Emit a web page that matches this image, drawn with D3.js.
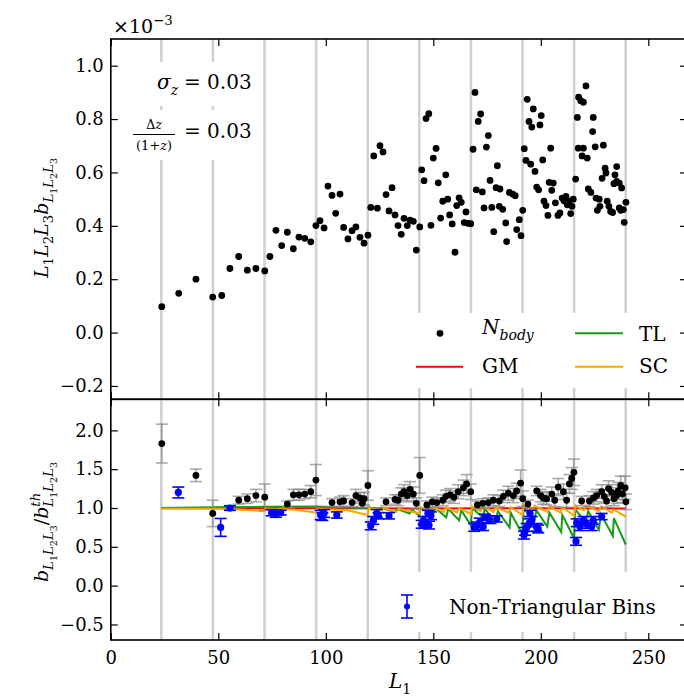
<!DOCTYPE html>
<html>
<head>
<meta charset="utf-8">
<script src="https://cdn.jsdelivr.net/npm/d3@7/dist/d3.min.js"></script>
<style>
body{margin:0;background:#fff;}
text{font-family:"DejaVu Serif",serif;fill:#000;}
</style>
</head>
<body>
<script>
/*
bispectrum of N-body vs models
top: L1 L2 L3 b (x1e-3), bottom: ratio to theory
*/

var svgwidth=684,svgheight=698;

// bin boundaries in L1 (grey verticals)
var binEdges=[23.5,47.5,71.5,95.5,119.5,143.5,167.5,191.5,215.5,239.5];
var xTicks=[0,50,100,150,200,250];
var topTicks=[-0.2,0.0,0.2,0.4,0.6,0.8,1.0];
var botTicks=[-0.5,0.0,0.5,1.0,1.5,2.0];

// N-body points, top panel (units of 1e-3)
var nbodyL1=[23.7,31.6,39.6,47.4,51.6,55.4,59.5,63.5,67.5,71.6,74.0,76.8,79.5,82.1,84.9,87.5,90.2,93.0,95.4,97.3,
  99.2,101.0,102.9,106.6,104.6,108.3,110.3,112.2,114.0,115.9,117.8,119.6,120.9,124.0,122.3,125.2,126.6,128.0,130.8,129.4,
  132.2,133.6,135.1,136.4,137.9,139.2,140.7,142.1,143.7,144.6,145.7,146.6,147.9,148.9,150.0,151.3,152.3,153.4,154.4,155.8,
  156.7,157.6,158.8,160.1,160.9,162.0,163.0,165.2,164.4,166.3,167.4,168.5,169.4,170.9,172.0,170.0,172.8,174.7,175.6,173.6,
  176.4,177.2,178.1,179.2,179.8,180.7,181.0,182.3,183.7,184.1,185.4,186.9,188.1,188.8,190.0,190.8,191.6,192.3,193.7,194.5,
  195.8,196.5,193.1,195.3,197.3,199.6,200.2,200.9,204.6,198.1,199.0,203.9,205.8,205.1,201.5,202.4,203.3,206.8,208.0,208.9,
  209.9,210.8,211.7,212.3,213.1,213.9,214.5,215.1,216.2,217.0,217.6,218.6,219.8,221.0,217.4,219.8,219.2,221.6,224.4,224.1,
  225.3,229.1,222.1,223.3,225.7,227.2,227.5,226.3,228.5,229.9,230.3,230.9,231.7,232.5,233.4,234.5,235.3,234.0,235.3,236.5,
  237.6,236.5,237.2,238.4,239.6,238.8];
var nbodyB=[0.097,0.147,0.200,0.133,0.139,0.240,0.285,0.234,0.240,0.231,0.285,0.383,0.326,0.376,0.314,0.358,0.353,0.340,0.401,0.419,
  0.392,0.549,0.514,0.519,0.447,0.394,0.351,0.382,0.396,0.357,0.335,0.365,0.469,0.466,0.662,0.700,0.677,0.517,0.543,0.456,
  0.441,0.401,0.368,0.428,0.401,0.421,0.417,0.309,0.396,0.610,0.569,0.802,0.820,0.402,0.654,0.690,0.561,0.429,0.492,0.591,
  0.500,0.441,0.407,0.301,0.476,0.505,0.488,0.452,0.412,0.409,0.408,0.687,0.900,0.791,0.819,0.535,0.527,0.695,0.738,0.467,
  0.570,0.469,0.378,0.543,0.625,0.473,0.538,0.462,0.411,0.341,0.525,0.519,0.513,0.386,0.423,0.363,0.458,0.689,0.874,0.791,
  0.770,0.838,0.645,0.631,0.604,0.778,0.813,0.647,0.691,0.545,0.535,0.563,0.560,0.533,0.492,0.476,0.439,0.486,0.439,0.448,
  0.504,0.494,0.510,0.479,0.492,0.446,0.473,0.500,0.575,0.806,0.882,0.869,0.863,0.924,0.691,0.691,0.662,0.654,0.806,0.753,
  0.696,0.702,0.538,0.525,0.504,0.500,0.473,0.458,0.578,0.616,0.598,0.492,0.473,0.454,0.450,0.591,0.622,0.558,0.566,0.560,
  0.542,0.467,0.458,0.461,0.488,0.413];

// triangular bins, ratio to theory (black)
var triL1=[23.7,39.6,47.4,59.5,63.5,67.5,71.6,82.1,84.9,87.5,90.2,93.0,95.4,102.9,106.6,108.3,112.2,114.0,115.9,117.0,
  117.8,119.6,128.0,132.2,133.6,135.1,136.4,137.9,139.2,140.7,142.1,143.7,147.0,149.5,151.6,154.4,155.9,157.8,159.6,161.6,
  164.0,165.5,167.4,170.5,173.0,175.6,177.9,180.7,182.6,184.9,187.2,188.8,190.6,191.6,194.0,198.1,199.9,201.2,202.7,205.1,
  206.5,208.1,210.5,212.0,213.3,214.4,215.4,219.0,222.6,224.5,226.0,228.3,229.5,230.6,231.5,233.0,234.0,235.3,236.0,237.2,
  238.0,239.2,239.6];
var triRatio=[1.83,1.42,0.93,1.10,1.12,1.16,1.14,1.05,1.17,1.17,1.18,1.21,1.36,1.07,1.08,1.09,1.07,1.16,1.13,1.06,
  1.12,1.29,1.08,1.11,1.10,1.18,1.21,1.16,1.24,1.18,1.06,1.42,1.04,1.08,1.07,1.10,1.15,1.17,1.14,1.21,
  1.26,1.31,1.21,1.04,1.06,1.07,1.10,1.09,1.15,1.19,1.16,1.22,1.32,1.12,1.05,1.22,1.16,1.13,1.12,1.18,
  1.10,1.27,1.21,1.10,1.31,1.38,1.46,1.09,1.09,1.13,1.16,1.21,1.15,1.09,1.25,1.20,1.12,1.16,1.22,1.29,
  1.18,1.26,1.08];
var triErr=[0.25,0.08,0.17,0.05,0.06,0.08,0.17,0.04,0.07,0.07,0.06,0.08,0.20,0.05,0.06,0.07,0.05,0.08,0.07,0.05,
  0.08,0.19,0.05,0.06,0.07,0.08,0.09,0.08,0.10,0.09,0.07,0.23,0.05,0.06,0.06,0.07,0.08,0.08,0.08,0.09,
  0.10,0.12,0.10,0.05,0.06,0.06,0.07,0.07,0.08,0.09,0.09,0.10,0.17,0.10,0.05,0.06,0.08,0.08,0.08,0.09,
  0.08,0.11,0.10,0.09,0.12,0.14,0.17,0.06,0.07,0.08,0.08,0.09,0.09,0.08,0.10,0.10,0.09,0.10,0.11,0.12,
  0.11,0.15,0.10];

// non-triangular bins (blue)
var ntL1=[31.4,51.1,55.4,74.8,76.8,79.0,97.6,98.4,99.2,105.1,120.9,122.1,123.7,124.5,129.4,144.6,145.5,146.6,148.0,147.5,
  148.9,169.0,170.3,171.6,173.2,174.0,176.0,179.5,192.2,192.7,193.4,194.7,195.8,195.0,198.1,198.8,216.4,216.7,218.2,219.8,
  221.3,223.7,224.4,228.3];
var ntRatio=[1.20,0.75,1.00,0.94,0.92,0.94,0.91,0.89,0.93,0.91,0.77,0.84,0.93,0.90,0.90,0.79,0.84,0.80,0.78,0.93,
  0.90,0.75,0.77,0.82,0.76,0.88,0.85,0.86,0.65,0.70,0.75,0.81,0.84,0.93,0.75,0.73,0.57,0.81,0.76,0.84,
  0.79,0.76,0.84,0.89];
var ntErr=[0.07,0.115,0.03,0.04,0.04,0.03,0.06,0.05,0.05,0.04,0.05,0.05,0.05,0.04,0.04,0.05,0.05,0.05,0.05,0.04,
  0.05,0.05,0.05,0.05,0.05,0.04,0.05,0.04,0.05,0.05,0.05,0.05,0.05,0.04,0.05,0.05,0.05,0.05,0.05,0.05,
  0.05,0.05,0.05,0.04];

// model curves
var gmL1=[23.5,95.5,143.5,191.5,239.5];
var gmRatio=[1.0,0.997,0.995,0.997,0.995];
var tlL1=[23.5,47.5,71.5,95.5,105,119.5,120,125,126,132,133,139,140,143.5,144,150,151,156,157,162,163,167.5,
  168,173,174,179,180,185.5,186,191.5,192,197,198,203,204,209.5,210,215.5,216,221,222,227,228,233.5,234,239.5];
var tlRatio=[1.0,1.01,1.015,1.02,1.01,1.0,1.01,0.98,1.0,0.95,0.99,0.93,0.98,0.90,1.0,0.93,1.0,0.88,0.99,0.84,0.97,0.78,
  1.0,0.88,0.99,0.81,0.96,0.75,0.94,0.66,0.99,0.85,0.97,0.76,0.94,0.69,0.91,0.61,0.98,0.82,0.96,0.72,0.92,0.64,0.87,0.53];
var scL1=[23.5,47.5,60,71.5,72,85,95.5,96,110,119.5,120,126,127,133,134,143.5,144,149,150,155,156,161,162,167.5,
  168,172,173,178,179,185,186,191.5,192,196,197,203,204,209,210,215.5,216,220,221,227,228,233,234,239.5];
var scRatio=[0.99,0.99,0.98,0.96,0.99,0.98,0.94,0.99,0.97,0.91,1.0,0.97,1.0,0.95,0.99,0.93,1.01,0.96,1.01,0.95,1.01,0.94,1.0,0.92,
  1.02,0.96,1.02,0.95,1.01,0.94,1.01,0.91,1.03,0.97,1.03,0.95,1.02,0.94,1.01,0.90,1.03,0.97,1.03,0.96,1.02,0.94,0.98,0.89];

// ---- layout ----
var xL=110.8,xR=687,yT=39,yM=399.3,yB=640;
var x=d3.scaleLinear().domain([0,268]).range([xL,xR]);
var yTop=d3.scaleLinear().domain([-0.25,1.1]).range([yM,yT]);
var yBot=d3.scaleLinear().domain([-0.7,2.4]).range([yB,yM]);
var fmt=function(d){return d3.format(".1f")(d).replace("-","\u2212");};
var grey="#d0d0d0";

var svg=d3.select("body").append("svg")
  .attr("width",svgwidth)
  .attr("height",svgheight);
svg.append("rect").attr("width",svgwidth).attr("height",svgheight).attr("fill","#fff");

// mathtext helper: parts = [text, level, italic, back]
var levels={b:{off:0,sc:1},s:{off:0.28,sc:0.7},ss:{off:0.45,sc:0.5},p:{off:-0.42,sc:0.7}};
function addMath(g,parts,fs){
  var t=g.append("text").style("font-size",fs+"px");
  var prev=0,spans=[];
  parts.forEach(function(p){
    var lv=levels[p[1]],off=lv.off*fs;
    var s=t.append("tspan").text(p[0])
      .attr("dy",(off-prev).toFixed(2))
      .style("font-size",(fs*lv.sc)+"px")
      .style("font-style",p[2]?"italic":"normal");
    spans.push(s);
    prev=off;
  });
  parts.forEach(function(p,i){
    if(p[3]) spans[i].attr("dx",-spans[i-1].node().getComputedTextLength());
  });
  return t;
}

function vlines(g,y0,y1){
  g.selectAll(".vl").data(binEdges).enter().append("line")
    .attr("x1",function(d){return x(d);}).attr("x2",function(d){return x(d);})
    .attr("y1",y0).attr("y2",y1)
    .attr("stroke",grey).attr("stroke-width",2.5);
}

function axes(g,y,ticks,y0,y1,xlab){
  var left=g.append("g").attr("transform","translate("+xL+",0)")
    .call(d3.axisLeft(y).tickValues(ticks).tickSize(-7).tickPadding(7).tickFormat(fmt));
  g.append("g").attr("transform","translate("+xR+",0)")
    .call(d3.axisRight(y).tickValues(ticks).tickSize(-7).tickFormat(""));
  g.append("g").attr("transform","translate(0,"+y0+")")
    .call(d3.axisTop(x).tickValues(xTicks).tickSize(-7).tickFormat(""));
  var bot=g.append("g").attr("transform","translate(0,"+y1+")")
    .call(d3.axisBottom(x).tickValues(xTicks).tickSize(-7).tickPadding(11).tickFormat(xlab?d3.format("d"):""));
  g.selectAll(".domain").remove();
  g.selectAll(".tick line").attr("stroke","#000").attr("stroke-width",1.2);
  g.selectAll(".tick text").style("font-size","18px").style("font-family","DejaVu Serif");
  g.append("rect").attr("x",xL).attr("y",y0).attr("width",xR-xL).attr("height",y1-y0)
    .attr("fill","none").attr("stroke","#000").attr("stroke-width",1.6);
}

function drawTop(g){
  vlines(g,yT,yM);
  // white boxes behind annotations and legend
  g.append("rect").attr("x",128).attr("y",62).attr("width",124).attr("height",44).attr("fill","#fff");
  g.append("rect").attr("x",128).attr("y",110).attr("width",124).attr("height",50).attr("fill","#fff");
  g.append("rect").attr("x",398).attr("y",313).attr("width",292).attr("height",75).attr("fill","#fff");

  g.selectAll(".pt").data(nbodyL1).enter().append("circle")
    .attr("cx",function(d){return x(d);})
    .attr("cy",function(d,i){return yTop(nbodyB[i]);})
    .attr("r",3.4).attr("fill","#000");

  axes(g,yTop,topTicks,yT,yM,false);

  // x10^-3
  addMath(g,[["\u00d710","b",0],["\u22123","p",0]],19).attr("x",113).attr("y",33);

  // sigma_z
  addMath(g,[["\u03c3","b",1],["z","s",1]],20).attr("x",157).attr("y",89);
  g.append("text").attr("x",184).attr("y",89).style("font-size","20px").text("= 0.03");
  // delta z / (1+z)
  addMath(g,[["\u0394","b",0],["z","b",1]],13).attr("x",154).attr("y",129).attr("text-anchor","middle");
  g.append("line").attr("x1",133).attr("x2",175).attr("y1",134.5).attr("y2",134.5).attr("stroke","#000").attr("stroke-width",1);
  addMath(g,[["(1+","b",0],["z","b",1],[")","b",0]],13).attr("x",154).attr("y",150).attr("text-anchor","middle");
  g.append("text").attr("x",184).attr("y",138).style("font-size","20px").text("= 0.03");

  // legend
  g.append("circle").attr("cx",440).attr("cy",333.3).attr("r",3.4).attr("fill","#000");
  addMath(g,[["N","b",1],["body","s",1]],20).attr("x",482).attr("y",334);
  g.append("line").attr("x1",575).attr("x2",623).attr("y1",333.3).attr("y2",333.3).attr("stroke","#1a9a1a").attr("stroke-width",2);
  g.append("text").attr("x",639).attr("y",340.7).style("font-size","20px").text("TL");
  g.append("line").attr("x1",416).attr("x2",463).attr("y1",366.7).attr("y2",366.7).attr("stroke","#ff0000").attr("stroke-width",2);
  g.append("text").attr("x",482).attr("y",373.3).style("font-size","20px").text("GM");
  g.append("line").attr("x1",575).attr("x2",623).attr("y1",366.7).attr("y2",366.7).attr("stroke","#ffa500").attr("stroke-width",2);
  g.append("text").attr("x",639).attr("y",373.3).style("font-size","20px").text("SC");

  // y label
  addMath(g,[["L","b",1],["1","s",0],["L","b",1],["2","s",0],["L","b",1],["3","s",0],
    ["b","b",1],["L","s",1],["1","ss",0],["L","s",1],["2","ss",0],["L","s",1],["3","ss",0]],19)
    .attr("text-anchor","middle").attr("transform","translate(48,218) rotate(-90)");
}

function drawBottom(g){
  vlines(g,yM,yB);
  g.append("rect").attr("x",392).attr("y",572).attr("width",298).attr("height",60).attr("fill","#fff");

  var line=d3.line().x(function(d){return x(d[0]);}).y(function(d){return yBot(d[1]);});
  var models=[[gmL1,gmRatio,"#ff0000"],[tlL1,tlRatio,"#1a9a1a"],[scL1,scRatio,"#ffa500"]];
  models.forEach(function(m){
    g.append("path").datum(m[0].map(function(v,i){return [v,m[1][i]];}))
      .attr("d",line).attr("fill","none").attr("stroke",m[2]).attr("stroke-width",2);
  });

  function errbars(L1,val,err,col,op,cap,r,cls){
    var eb=g.append("g").attr("stroke",col).attr("stroke-opacity",op).attr("stroke-width",1.6);
    eb.selectAll("."+cls+"v").data(L1).enter().append("line")
      .attr("x1",function(d){return x(d);}).attr("x2",function(d){return x(d);})
      .attr("y1",function(d,i){return yBot(val[i]+err[i]);})
      .attr("y2",function(d,i){return yBot(val[i]-err[i]);});
    [1,-1].forEach(function(s){
      eb.selectAll("."+cls+s).data(L1).enter().append("line")
        .attr("x1",function(d){return x(d)-cap;}).attr("x2",function(d){return x(d)+cap;})
        .attr("y1",function(d,i){return yBot(val[i]+s*err[i]);})
        .attr("y2",function(d,i){return yBot(val[i]+s*err[i]);});
    });
  }
  errbars(triL1,triRatio,triErr,"#888",0.7,6,3.4,"t");
  g.selectAll(".tp").data(triL1).enter().append("circle")
    .attr("cx",function(d){return x(d);})
    .attr("cy",function(d,i){return yBot(triRatio[i]);})
    .attr("r",3.4).attr("fill","#000");
  errbars(ntL1,ntRatio,ntErr,"#0000ff",1,6,3.6,"n");
  g.selectAll(".np").data(ntL1).enter().append("circle")
    .attr("cx",function(d){return x(d);})
    .attr("cy",function(d,i){return yBot(ntRatio[i]);})
    .attr("r",3.6).attr("fill","#0000ff");

  axes(g,yBot,botTicks,yM,yB,true);

  // legend
  var lg=g.append("g").attr("stroke","#0000ff").attr("stroke-width",1.6);
  lg.append("line").attr("x1",407).attr("x2",407).attr("y1",595).attr("y2",618);
  lg.append("line").attr("x1",401).attr("x2",413).attr("y1",595).attr("y2",595);
  lg.append("line").attr("x1",401).attr("x2",413).attr("y1",618).attr("y2",618);
  g.append("circle").attr("cx",407).attr("cy",606.5).attr("r",3).attr("fill","#0000ff");
  g.append("text").attr("x",449).attr("y",614).style("font-size","20px").text("Non-Triangular Bins");

  // y label
  addMath(g,[["b","b",1],["L","s",1],["1","ss",0],["L","s",1],["2","ss",0],["L","s",1],["3","ss",0],
    ["/","b",0],["b","b",1],["th","p",1],["L","s",1,true],["1","ss",0],["L","s",1],["2","ss",0],["L","s",1],["3","ss",0]],19)
    .attr("text-anchor","middle").attr("transform","translate(48,522) rotate(-90)");
  // x label
  addMath(g,[["L","b",1],["1","s",0]],20).attr("x",400).attr("y",688).attr("text-anchor","middle");
}

var gTop=svg.append("g").attr("id","gtop");
var gBot=svg.append("g").attr("id","gbot");
drawTop(gTop);
drawBottom(gBot);
</script>
</body>
</html>
